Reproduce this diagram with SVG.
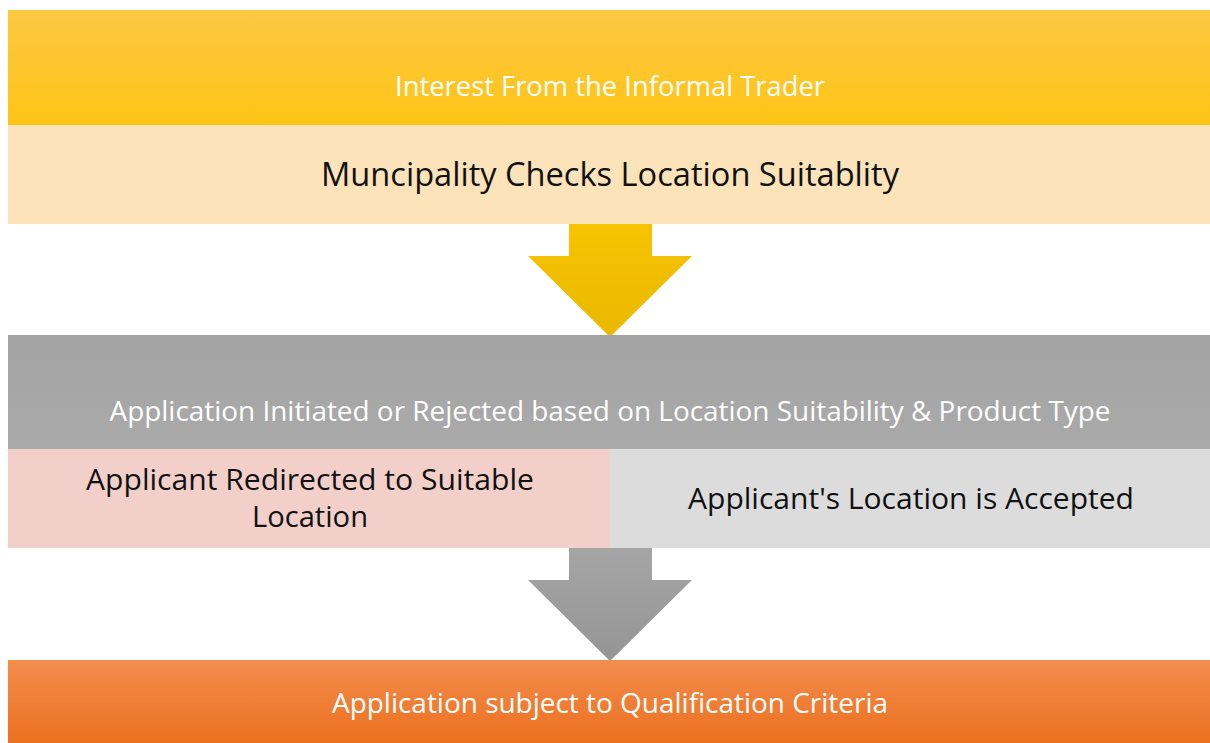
<svg xmlns="http://www.w3.org/2000/svg" width="1210" height="743" viewBox="0 0 1210 743">
<defs>
<linearGradient id="gY" x1="0" y1="0" x2="0" y2="1"><stop offset="0" stop-color="#fdc842"/><stop offset="1" stop-color="#fec415"/></linearGradient>
<linearGradient id="gYa" x1="0" y1="0" x2="0" y2="1"><stop offset="0" stop-color="#f6c400"/><stop offset="1" stop-color="#eab800"/></linearGradient>
<linearGradient id="gG" x1="0" y1="0" x2="0" y2="1"><stop offset="0" stop-color="#a3a3a3"/><stop offset="1" stop-color="#aaaaaa"/></linearGradient>
<linearGradient id="gGa" x1="0" y1="0" x2="0" y2="1"><stop offset="0" stop-color="#a5a5a5"/><stop offset="1" stop-color="#959595"/></linearGradient>
<linearGradient id="gO" x1="0" y1="0" x2="0" y2="1"><stop offset="0" stop-color="#f28d4d"/><stop offset="1" stop-color="#ec701f"/></linearGradient>
</defs>
<style>
text{font-family:"Open Sans","Liberation Sans",sans-serif;text-anchor:middle}
.w{fill:#ffffff}
.k{fill:#111111}
</style>
<rect width="1210" height="743" fill="#ffffff"/>
<g id="connectors">
<polygon points="569,224 652,224 652,256 692,256 610,337 528,256 569,256" fill="url(#gYa)"/>
<polygon points="569,548 652,548 652,580 692,580 610,661 528,580 569,580" fill="url(#gGa)"/>
</g>
<g id="interest">
<rect x="8" y="10" width="1202" height="115" fill="url(#gY)"/>
<text class="w" x="610" y="96" font-size="27" textLength="430" lengthAdjust="spacingAndGlyphs">Interest From the Informal Trader</text>
</g>
<g id="municipality">
<rect x="8" y="125" width="1202" height="99" fill="#fde3b9"/>
<text class="k" x="610" y="186" font-size="32" textLength="578" lengthAdjust="spacingAndGlyphs">Muncipality Checks Location Suitablity</text>
</g>
<g id="application">
<rect x="8" y="335" width="1202" height="114" fill="url(#gG)"/>
<text class="w" x="610" y="421" font-size="27" textLength="1001" lengthAdjust="spacingAndGlyphs">Application Initiated or Rejected based on Location Suitability &amp; Product Type</text>
</g>
<g id="redirected">
<rect x="8" y="449" width="602" height="99" fill="#f2d0c9"/>
<text class="k" x="310" y="490" font-size="29" textLength="448" lengthAdjust="spacingAndGlyphs">Applicant Redirected to Suitable</text>
<text class="k" x="310" y="527" font-size="29" textLength="116" lengthAdjust="spacingAndGlyphs">Location</text>
</g>
<g id="accepted">
<rect x="610" y="449" width="600" height="99" fill="#dcdcdc"/>
<text class="k" x="911" y="509" font-size="29" textLength="446" lengthAdjust="spacingAndGlyphs">Applicant's Location is Accepted</text>
</g>
<g id="qualification">
<rect x="8" y="660" width="1202" height="83" fill="url(#gO)"/>
<text class="w" x="610" y="713" font-size="27" textLength="556" lengthAdjust="spacingAndGlyphs">Application subject to Qualification Criteria</text>
</g>
</svg>
